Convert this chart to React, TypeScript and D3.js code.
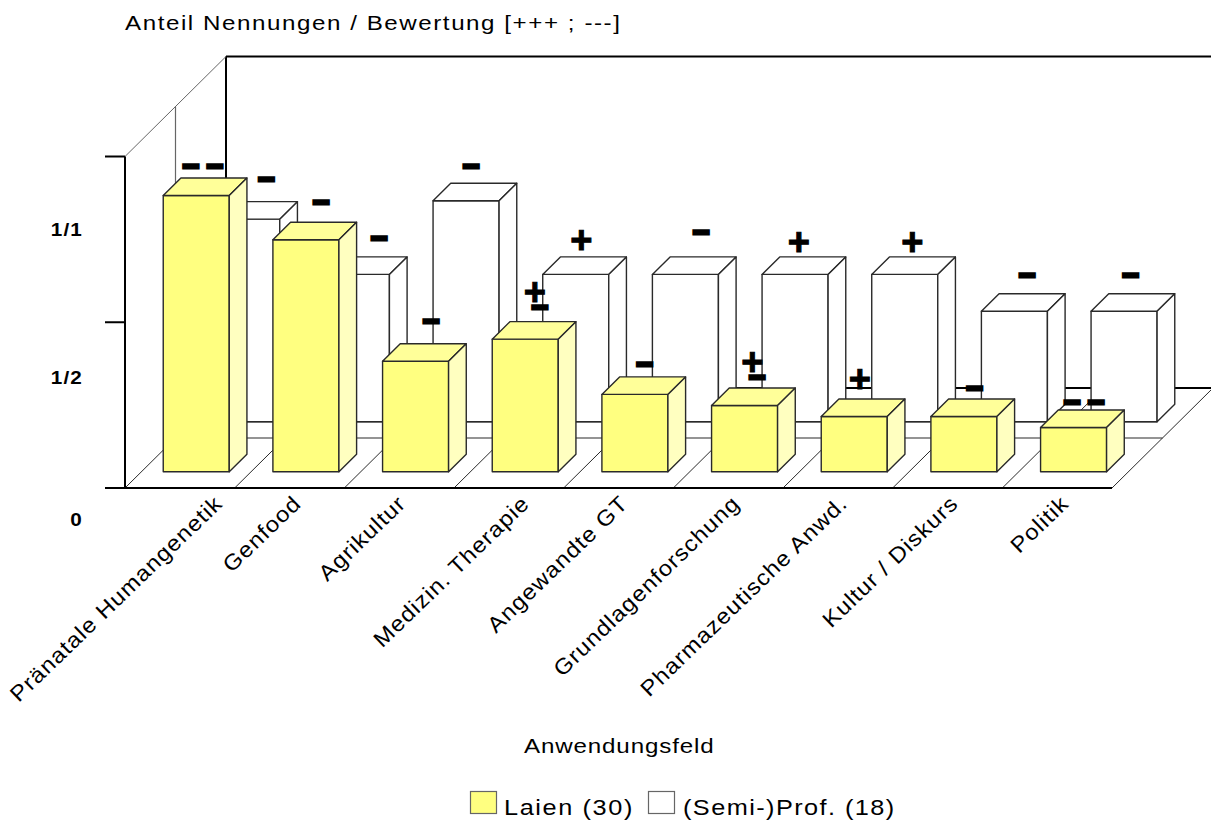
import * as d3 from 'd3'

const categories = [
  'Pränatale Humangenetik', 'Genfood', 'Agrikultur', 'Medizin. Therapie', 'Angewandte GT',
  'Grundlagenforschung', 'Pharmazeutische Anwd.', 'Kultur / Diskurs', 'Politik',
]
const seriesNames = ['Laien (30)', '(Semi-)Prof. (18)']
// number of mentions per field
const laienCounts = [25, 21, 10, 12, 7, 6, 5, 5, 4]
const profCounts = [11, 8, 12, 8, 8, 8, 8, 6, 6]
const laienTotal = 30
const profTotal = 18
const laienRatings = ['−−', '−', '−', '+−', '−', '+−', '+', '−', '−−']
const profRatings = ['−', '−', '−', '+', '−', '+', '+', '−', '−']
const yTicks = [0, 0.5, 1]
const yTickLabels = ['0', '1/2', '1/1']

// where the rating marks sit relative to the top-back-right corner of their bar
const laienNudge = [[-44, -12], [-35.5, -20], [-35, -23], [-36, -15], [-41, -13], [-38, -11], [-45, -20], [-40, -11], [-40, -8]]
const profNudge = [[-31, -23], [-28, -19], [-45.5, -17], [-45, -17], [-35, -25], [-47, -15], [-43, -15], [-38, -19], [-44, -19]]
const yTickLabelShift = [38, 62, 79]
const catNudge = [28, -3, -8, 6, -5, -3, -5, -4, -3]

const fontFamily = '"Liberation Sans", Arial, sans-serif'
const stretch = 1.15

const x0 = 125
const x1 = 1112
const yBase = 488
const wallHeight = 331.5
const depthX = 101
const depthY = 100

const x = d3.scaleBand<string>().domain(categories).range([x0, x1]).paddingInner(0.398).paddingOuter(0.199)
const y = d3.scaleLinear().domain([0, 1]).range([0, wallHeight])
const rowX = d3.scaleBand<string>().domain(seriesNames).range([0, depthX]).paddingInner(0.65).paddingOuter(0.325)
const rowY = d3.scaleBand<string>().domain(seriesNames).range([0, depthY]).paddingInner(0.65).paddingOuter(0.325)

const lineColor = '#2a2a2a'
const grayLine = '#666'

function Bar({ cat, series, value, front, top, side }: any) {
  const left = x(cat)! + rowX(series)!
  const right = left + x.bandwidth()
  const bottom = yBase - rowY(series)!
  const upper = bottom - y(value)
  const dx = rowX.bandwidth()
  const dy = rowY.bandwidth()
  const pts = (p: number[][]) => p.map(d => d.join(',')).join(' ')
  const st = { stroke: lineColor, strokeWidth: 1.4, strokeLinejoin: 'round' as const }
  return (
    <g>
      <polygon points={pts([[left, bottom], [right, bottom], [right, upper], [left, upper]])} fill={front} {...st} />
      <polygon points={pts([[left, upper], [right, upper], [right + dx, upper - dy], [left + dx, upper - dy]])} fill={top} {...st} />
      <polygon points={pts([[right, bottom], [right + dx, bottom - dy], [right + dx, upper - dy], [right, upper]])} fill={side} {...st} />
    </g>
  )
}

// one glyph of a rating; the thin font glyph is thickened with a stroke
function Mark({ ch, cx, cy }: any) {
  const plus = ch === '+'
  const size = plus ? 38 : 29
  return (
    <text x={cx} y={cy + size * 0.345} fontSize={size} fontWeight="bold" textAnchor="middle"
      stroke="#000" strokeWidth={plus ? 1 : 3} strokeLinejoin="miter">{ch}</text>
  )
}

function Rating({ text, cat, series, value, nudge }: any) {
  const cx = x(cat)! + rowX(series)! + x.bandwidth() + rowX.bandwidth() + nudge[0]
  const cy = yBase - rowY(series)! - y(value) - rowY.bandwidth() + nudge[1]
  if (text === '+−') {
    // stacked pair: plus above the minus, slightly to the left
    return (
      <g>
        <Mark ch="+" cx={cx - 5} cy={cy - 15} />
        <Mark ch="−" cx={cx} cy={cy} />
      </g>
    )
  }
  if (text === '−−') {
    return (
      <g>
        <Mark ch="−" cx={cx - 12} cy={cy} />
        <Mark ch="−" cx={cx + 12} cy={cy} />
      </g>
    )
  }
  return <Mark ch={text} cx={cx} cy={cy} />
}

// text in the reference is wider than Liberation Sans, so it gets stretched sideways
function Wide({ x: tx, y: ty, size, spacing, children }: any) {
  return (
    <text transform={`translate(${tx},${ty}) scale(${stretch},1)`} fontSize={size} letterSpacing={spacing}>{children}</text>
  )
}

export default function App() {
  const backLeft = x0 + depthX
  const backBase = yBase - depthY
  const wallTop = yBase - wallHeight - depthY
  const boundaries = d3.range(categories.length + 1).map(i => x0 + (i * (x1 - x0)) / categories.length)
  const midX = x0 + depthX / 2
  const midY = yBase - depthY / 2
  const lastCat = categories[categories.length - 1]
  const wY = yBase - rowY(seriesNames[1])!
  const wLeft = x(categories[0])! + rowX(seriesNames[1])!
  const wRight = x(lastCat)! + rowX(seriesNames[1])! + x.bandwidth()

  return (
    <svg width={1211} height={821} style={{ position: 'absolute', left: 0, top: 0 }} fontFamily={fontFamily}>
      <rect width={1211} height={821} fill="#fff" />
      {/* walls */}
      <line x1={backLeft} x2={1211} y1={wallTop} y2={wallTop} stroke="#000" strokeWidth={2} />
      <line x1={backLeft} x2={backLeft} y1={wallTop} y2={backBase} stroke="#000" strokeWidth={2} />
      <line x1={backLeft} x2={1211} y1={backBase} y2={backBase} stroke="#000" strokeWidth={2} />
      <line x1={x0} y1={yBase - wallHeight} x2={backLeft} y2={wallTop} stroke={grayLine} strokeWidth={1} />
      <line x1={midX} x2={midX} y1={midY - wallHeight} y2={midY} stroke={grayLine} strokeWidth={1.2} />
      {/* floor */}
      {boundaries.map((b, i) => (
        <line key={i} x1={b} y1={yBase} x2={b + depthX} y2={backBase} stroke={lineColor} strokeWidth={1} />
      ))}
      <line x1={midX} x2={x1 + depthX / 2} y1={midY} y2={midY} stroke={lineColor} strokeWidth={1.2} />
      <line x1={wLeft} x2={wRight} y1={wY} y2={wY} stroke={grayLine} strokeWidth={1.4} />
      {/* back row, then front row */}
      {categories.map((c, i) => (
        <Bar key={c} cat={c} series={seriesNames[1]} value={profCounts[i] / profTotal} front="#fff" top="#fff" side="#fff" />
      ))}
      {categories.map((c, i) => (
        <Bar key={c} cat={c} series={seriesNames[0]} value={laienCounts[i] / laienTotal} front="#ffff80" top="#ffff99" side="#ffffc0" />
      ))}
      {/* front axis */}
      <line x1={x0} x2={x0} y1={yBase - wallHeight} y2={yBase} stroke="#000" strokeWidth={2} />
      <line x1={105} x2={x1} y1={yBase} y2={yBase} stroke="#000" strokeWidth={2} />
      {yTicks.map((t, i) => (
        <g key={t}>
          <line x1={105} x2={x0} y1={yBase - y(t)} y2={yBase - y(t)} stroke="#000" strokeWidth={2} />
          <text transform={`translate(83,${yBase - y(t) + yTickLabelShift[i]}) scale(${stretch},1)`} textAnchor="end" fontSize={18} fontWeight="bold" letterSpacing={1}>{yTickLabels[i]}</text>
        </g>
      ))}
      {/* ratings */}
      {categories.map((c, i) => (
        <Rating key={c} text={profRatings[i]} cat={c} series={seriesNames[1]} value={profCounts[i] / profTotal} nudge={profNudge[i]} />
      ))}
      {categories.map((c, i) => (
        <Rating key={c} text={laienRatings[i]} cat={c} series={seriesNames[0]} value={laienCounts[i] / laienTotal} nudge={laienNudge[i]} />
      ))}
      {/* category labels */}
      {categories.map((c, i) => {
        const lx = x(c)! + x.bandwidth() / 2 + catNudge[i] + 16
        return (
          <text key={c} transform={`translate(${lx},${yBase + 17}) rotate(-44) scale(1.08,1)`} textAnchor="end" fontSize={22} letterSpacing={1}>{c}</text>
        )
      })}
      <Wide x={125} y={30} size={21} spacing={1.36}>Anteil Nennungen / Bewertung [+++ ; ---]</Wide>
      <Wide x={524} y={753} size={21} spacing={0.75}>Anwendungsfeld</Wide>
      {/* legend */}
      <rect x={470.5} y={791.5} width={26} height={22} fill="#ffff80" stroke={grayLine} strokeWidth={1.2} />
      <Wide x={504} y={815} size={22} spacing={1.4}>{seriesNames[0]}</Wide>
      <rect x={648.5} y={791.5} width={26} height={22} fill="#fff" stroke={grayLine} strokeWidth={1.2} />
      <Wide x={683} y={815} size={22} spacing={1.25}>{seriesNames[1]}</Wide>
    </svg>
  )
}
